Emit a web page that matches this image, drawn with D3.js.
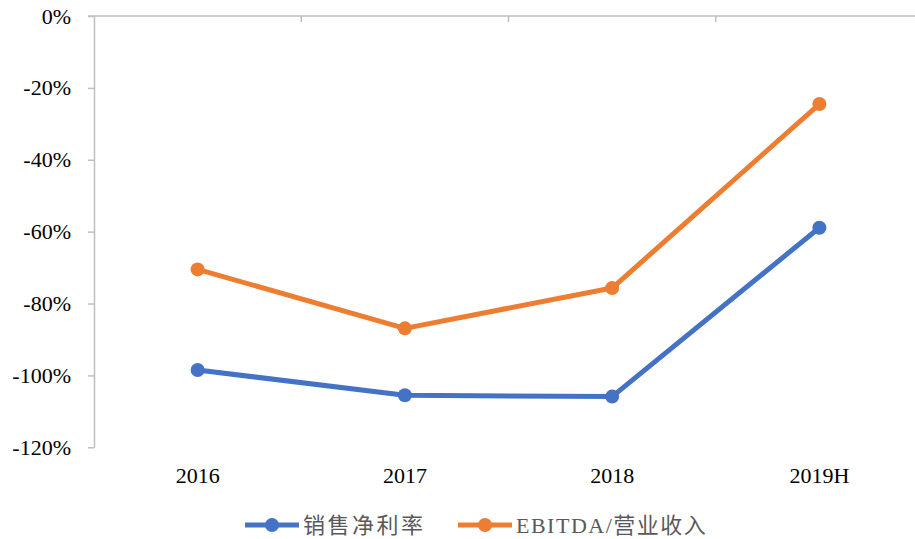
<!DOCTYPE html>
<html>
<head>
<meta charset="utf-8">
<script src="https://cdn.jsdelivr.net/npm/d3@7"></script>
<style>
  body { margin: 0; background: #fff; }
  svg { display: block; }
</style>
</head>
<body>
<div id="chart"></div>
<script>
// chart data
const categories = ["2016", "2017", "2018", "2019H"]
const netMargin = [-98.5, -105.5, -105.9, -58.9]
const ebitdaRatio = [-70.5, -86.9, -75.7, -24.5]
const yTicks = [0, -20, -40, -60, -80, -100, -120]
const seriesNames = ["销售净利率", "EBITDA/营业收入"]
const seriesColors = ["#4472C4", "#ED7D31"]

let width = 915
let height = 539

let svg = d3.select("#chart")
    .append("svg")
    .attr("width", width)
    .attr("height", height)

let x = d3.scaleBand()
    .domain(categories)
    .range([94, 923])

let y = d3.scaleLinear()
    .domain([-120, 0])
    .range([447.3, 16])

const axisColor = "#BFBFBF"
const serif = "'Liberation Serif', 'Times New Roman', serif"

// value axis
let yAxis = svg.append("g")
    .attr("transform", "translate(" + x.range()[0] + ",0)")
    .call(d3.axisLeft(y)
        .tickValues(yTicks)
        .tickSize(6)
        .tickSizeOuter(0)
        .tickPadding(17)
        .tickFormat(d => d + "%"))

yAxis.select(".domain").attr("stroke", axisColor).attr("stroke-width", 1.5)
yAxis.selectAll(".tick line").attr("stroke", axisColor).attr("stroke-width", 1.5)
yAxis.selectAll(".tick text")
    .attr("fill", "#000")
    .style("font-family", serif)
    .style("font-size", "22px")

// category axis line sits at 0
let boundaries = categories.map(c => x(c)).concat([x.range()[1]])
svg.append("line")
    .attr("x1", x.range()[0] - 6)
    .attr("x2", x.range()[1])
    .attr("y1", y(0))
    .attr("y2", y(0))
    .attr("stroke", axisColor)
    .attr("stroke-width", 1.5)

svg.selectAll(".cat-tick")
    .data(boundaries.slice(1))
    .enter()
    .append("line")
    .attr("x1", d => d)
    .attr("x2", d => d)
    .attr("y1", y(0))
    .attr("y2", y(0) + 6)
    .attr("stroke", axisColor)
    .attr("stroke-width", 1.5)

// category labels at the bottom
svg.selectAll(".cat-label")
    .data(categories)
    .enter()
    .append("text")
    .attr("x", d => x(d) + x.bandwidth() / 2)
    .attr("y", y(-120) + 36)
    .attr("text-anchor", "middle")
    .style("font-family", serif)
    .style("font-size", "22px")
    .attr("fill", "#000")
    .text(d => d)

// series
let series = [netMargin, ebitdaRatio].map((vals, i) => ({
    name: seriesNames[i],
    color: seriesColors[i],
    values: vals.map((v, j) => ({ cat: categories[j], value: v }))
}))

let line = d3.line()
    .x(d => x(d.cat) + x.bandwidth() / 2)
    .y(d => y(d.value))

series.forEach(s => {
    svg.append("path")
        .datum(s.values)
        .attr("fill", "none")
        .attr("stroke", s.color)
        .attr("stroke-width", 5)
        .attr("stroke-linejoin", "round")
        .attr("d", line)

    svg.selectAll(null)
        .data(s.values)
        .enter()
        .append("circle")
        .attr("cx", d => x(d.cat) + x.bandwidth() / 2)
        .attr("cy", d => y(d.value))
        .attr("r", 7)
        .attr("fill", s.color)
})

// legend
let legendY = 525
let legendX = [245, 458]
series.forEach((s, i) => {
    let g = svg.append("g")
        .attr("transform", "translate(" + legendX[i] + "," + legendY + ")")
    g.append("line")
        .attr("x1", 0).attr("x2", 54)
        .attr("y1", 0).attr("y2", 0)
        .attr("stroke", s.color)
        .attr("stroke-width", 5)
    g.append("circle")
        .attr("cx", 27).attr("cy", 0)
        .attr("r", 7)
        .attr("fill", s.color)
    g.append("text")
        .attr("x", 58)
        .attr("y", 0)
        .attr("dy", "0.35em")
        .style("font-family", "'Liberation Serif', 'Noto Sans CJK SC', serif")
        .style("font-size", "22px")
        .style("letter-spacing", i === 0 ? "2.5px" : "1.5px")
        .attr("fill", "#595959")
        .text(s.name)
})
</script>
</body>
</html>
